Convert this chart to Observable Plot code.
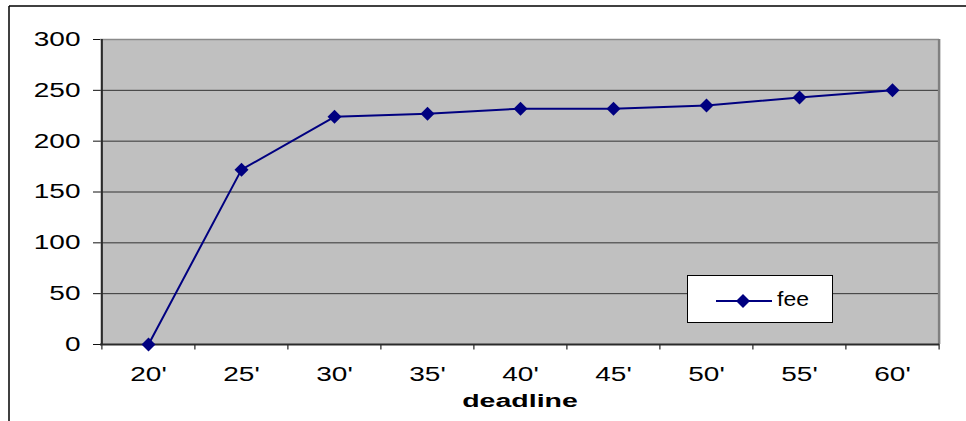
<!DOCTYPE html>
<html>
<head>
<meta charset="utf-8">
<script src="https://cdn.jsdelivr.net/npm/d3@7"></script>
<script src="https://cdn.jsdelivr.net/npm/@observablehq/plot@0.6"></script>
<style>
  html, body { margin: 0; padding: 0; background: #fff; }
  #chart svg { display: block; font-family: "Liberation Sans", Arial, sans-serif; }
</style>
</head>
<body>
<div id="chart"></div>
<script>
// Deadline categories and the fee recorded at each one
const deadlines = ["20'", "25'", "30'", "35'", "40'", "45'", "50'", "55'", "60'"];
const fee = [0, 172, 224, 227, 232, 232, 235, 243, 250];
const yTicks = [0, 50, 100, 150, 200, 250, 300];
const gridLevels = [50, 100, 150, 200, 250];
const seriesName = "fee";
const axisTitle = "deadline";

const rows = deadlines.map((d, i) => ({deadline: d, fee: fee[i]}));

const W = 966, H = 421;
const mL = 100, mR = 27, mT = 39, mB = 77;
const step = (W - mL - mR) / deadlines.length;
const navy = "#000080";
const markerR = 6.3;

const plot = Plot.plot({
  width: W,
  height: H,
  marginLeft: mL,
  marginRight: mR,
  marginTop: mT,
  marginBottom: mB,
  style: {background: "#fff", overflow: "visible"},
  x: {type: "point", domain: deadlines, padding: 0.5, align: 0.5},
  y: {domain: [0, 300]},
  marks: [
    Plot.frame({fill: "#C0C0C0", stroke: "none"}),
    Plot.ruleY(gridLevels, {stroke: "#333", strokeWidth: 1}),
    // plot-area border (top and right)
    Plot.ruleY([300], {stroke: "#8a8a8a", strokeWidth: 1.5}),
    Plot.ruleX([deadlines[deadlines.length - 1]], {dx: step / 2, stroke: "#808080", strokeWidth: 2.5}),
    // category boundary ticks below the axis
    Plot.ruleX(deadlines, {x: d => d, dx: -step / 2, y1: 0, y2: -5.5, stroke: "#222", strokeWidth: 1.2}),
    Plot.ruleX([deadlines[deadlines.length - 1]], {dx: step / 2, y1: 0, y2: -5.5, stroke: "#222", strokeWidth: 1.2}),
    // axis lines
    Plot.ruleX([deadlines[0]], {dx: -step / 2, stroke: "#2a2a2a", strokeWidth: 2}),
    Plot.ruleY([0], {stroke: "#2a2a2a", strokeWidth: 2}),
    Plot.axisY(yTicks, {tickSize: 7, tickPadding: 13, fontSize: 20, label: null, stroke: "#111", fill: "#000"}),
    Plot.axisX({tickSize: 0, tickPadding: 22, fontSize: 20, label: null, fill: "#000"}),
    Plot.text([axisTitle], {frameAnchor: "bottom", dy: 62, fontSize: 19, fontWeight: "bold", fill: "#000"}),
    Plot.line(rows, {x: "deadline", y: "fee", stroke: navy, strokeWidth: 2}),
    Plot.dot(rows, {x: "deadline", y: "fee", symbol: "diamond2", r: markerR, fill: navy})
  ]
});

document.getElementById("chart").append(plot);

// Widen the axis lettering
const widen = (sel, k) => {
  plot.querySelectorAll(sel).forEach(t => {
    const tr = t.getAttribute("transform") || "";
    t.setAttribute("transform", tr + ` scale(${k},1)`);
  });
};
widen('g[aria-label="y-axis tick label"] text', 1.4);
widen('g[aria-label="x-axis tick label"] text', 1.4);
widen('g[aria-label="text"] text', 1.5);

// Outer chart border (left and top edges) and the series legend
const svg = d3.select(plot);
const border = svg.append("g").attr("stroke", "#000").attr("stroke-width", 1.5);
border.append("line").attr("x1", 9).attr("y1", 6).attr("x2", 9).attr("y2", H);
border.append("line").attr("x1", 9).attr("y1", 6).attr("x2", W).attr("y2", 6);

const lx = W - mR - 107 - 145, ly = H - mB - 22 - 47;
const legend = svg.append("g").attr("transform", `translate(${lx},${ly})`);
legend.append("rect").attr("x", 0.5).attr("y", 0.5).attr("width", 145).attr("height", 47)
  .attr("fill", "#fff").attr("stroke", "#000").attr("stroke-width", 1);
legend.append("line").attr("x1", 29).attr("x2", 85).attr("y1", 26).attr("y2", 26)
  .attr("stroke", navy).attr("stroke-width", 2);
legend.append("path").attr("d", d3.symbol(d3.symbolDiamond2, Math.PI * markerR * markerR)())
  .attr("transform", "translate(56,26)").attr("fill", navy);
legend.append("text").attr("transform", "translate(90,31) scale(1.15,1)")
  .attr("text-anchor", "start")
  .attr("font-size", 20).attr("fill", "#000").text(seriesName);
</script>
</body>
</html>
